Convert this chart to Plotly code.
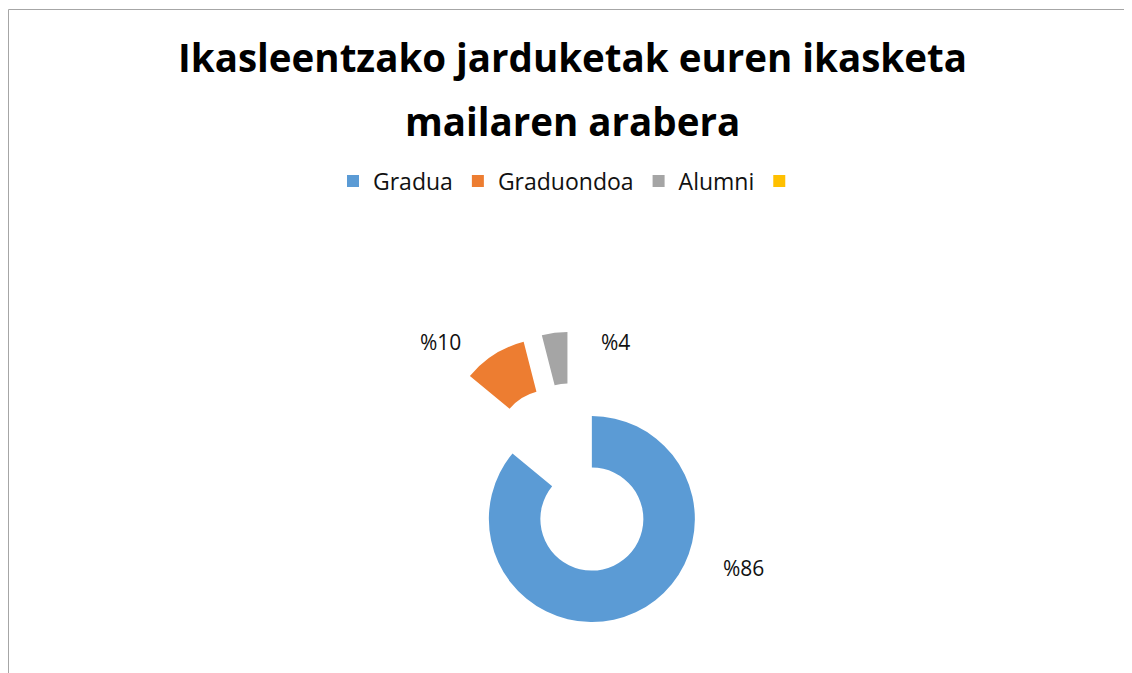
import plotly.graph_objects as go

labels = ["Gradua", "Graduondoa", "Alumni", " "]
values = [86, 10, 4, 0]
colors = ["#5B9BD5", "#ED7D31", "#A5A5A5", "#FFC000"]
title_line1 = "Ikasleentzako jarduketak euren ikasketa"
title_line2 = "mailaren arabera"

total = sum(values)
texts = [f"%{round(v / total * 100)}" for v in values]

W, H = 1132, 673
OFF = 8  # page body margin
cx, cy, half = 573 - OFF, 479 - OFF, 147.3

# data-label placement (screen px of each label centre, as in the reference layout)
label_pos = [(743, 567.5), (440, 342), (615, 342)]

fig = go.Figure(go.Pie(
    labels=labels,
    values=values,
    textinfo="none",
    hole=0.5,
    pull=0.43,
    sort=False,
    direction="clockwise",
    rotation=0,
    marker=dict(colors=colors),
    domain=dict(x=[(cx - half) / W, (cx + half) / W],
                y=[(H - cy - half) / H, (H - cy + half) / H]),
    showlegend=True,
    hoverinfo="label+percent",
))

annotations = []
for (px, py), t, v in zip(label_pos, texts, values):
    if v <= 0:
        continue
    annotations.append(dict(text=t, xref="paper", yref="paper",
                            x=(px - OFF) / W, y=1 - (py - OFF) / H,
                            xanchor="center", yanchor="middle", showarrow=False,
                            font=dict(family="Open Sans", size=21, color="#111111")))
annotations.append(dict(text=title_line2, xref="paper", yref="paper",
                        x=(572.5 - OFF) / W, y=1 - (121 - OFF) / H,
                        xanchor="center", yanchor="middle", showarrow=False,
                        font=dict(family="Open Sans", size=38.5, color="#000000", weight="bold")))

fig.update_layout(
    width=W, height=H,
    margin=dict(l=0, r=0, t=0, b=0, autoexpand=False),
    paper_bgcolor="white",
    title=dict(text=title_line1, x=(572.5 - OFF) / W, xanchor="center", yref="container",
               y=1 - (45 - OFF) / H, yanchor="top",
               font=dict(family="Open Sans", size=38.5, color="#000000", weight="bold")),
    legend=dict(orientation="h", x=(572 - OFF) / W, xanchor="center",
                y=1 - (181 - OFF) / H, yanchor="middle",
                font=dict(family="Open Sans", size=23, color="#111111"),
                traceorder="normal"),
    annotations=annotations,
    shapes=[dict(type="rect", xref="paper", yref="paper",
                 x0=0.5 / W, x1=1.2, y0=-0.2, y1=1 - 1.5 / H,
                 line=dict(color="#a6a6a6", width=1), fillcolor="rgba(0,0,0,0)", layer="below")],
)

fig.write_html("out.html")
